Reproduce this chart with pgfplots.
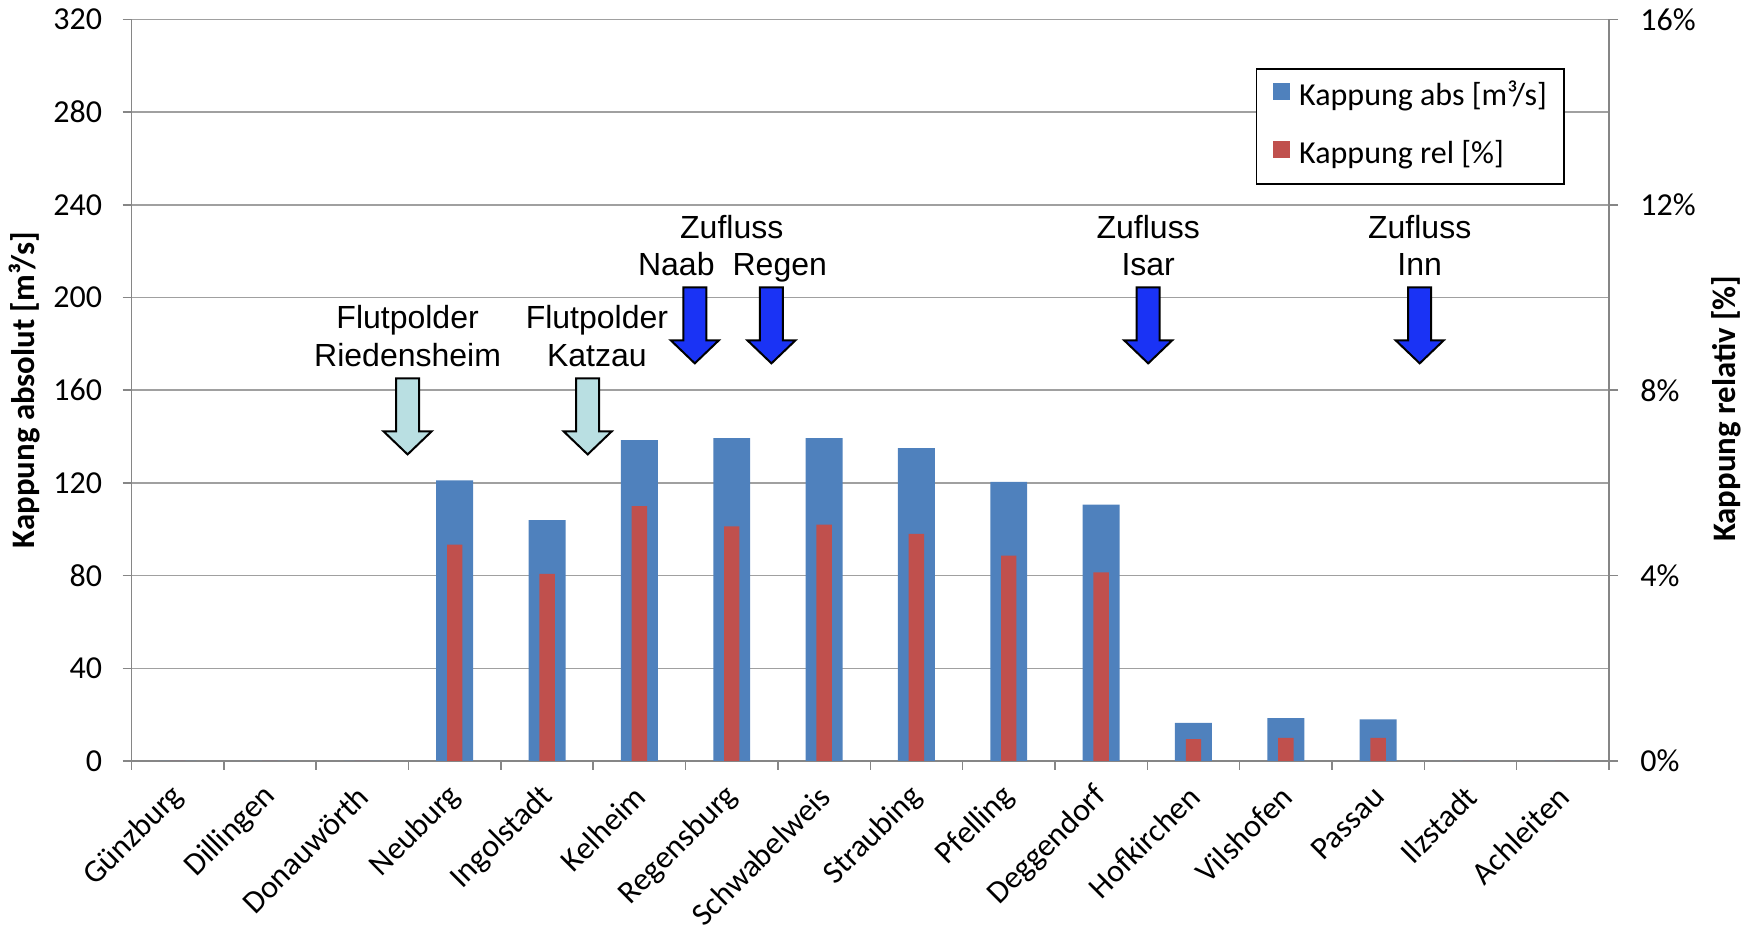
\documentclass[border=0pt]{standalone}
\usepackage{pgfplots}
\usepackage{pgfplotstable}
\pgfplotsset{compat=1.18}
\usepackage{fontspec}
\setmainfont{Carlito}
\newfontfamily\arialfont{Liberation Sans}

\definecolor{absblue}{RGB}{79,129,189}
\definecolor{relred}{RGB}{192,80,77}
\definecolor{axisgray}{RGB}{134,134,134}
\definecolor{gridgray}{RGB}{160,160,160}
\definecolor{zublue}{RGB}{26,51,245}
\definecolor{polder}{RGB}{185,223,226}

% gauge index, absolute capping [m^3/s], relative capping [%]
\pgfplotstableread{
idx abs rel
0 0 0
1 0 0
2 0 0
3 121.1 4.67
4 104.0 4.04
5 138.5 5.50
6 139.3 5.06
7 139.3 5.10
8 135.0 4.90
9 120.5 4.43
10 110.6 4.07
11 16.5 0.47
12 18.5 0.50
13 18.0 0.50
14 0 0
15 0 0
}\kappung

\newcommand{\labfont}{\fontsize{16}{19.2}\selectfont}
\newcommand{\annfont}{\arialfont\fontsize{16}{19.2}\selectfont}

% downward arrow marking a tributary or a flood polder
\newcommand{\flowarrow}[3]{%
  \draw[fill=#3, draw=black, line width=1pt, line join=miter, shift={(axis cs:#1,#2)}]
    (-5.75pt,0pt) -- (5.75pt,0pt) -- (5.75pt,-26.5pt) -- (12pt,-26.5pt)
    -- (0pt,-38pt) -- (-12pt,-26.5pt) -- (-5.75pt,-26.5pt) -- cycle;}

\pgfplotsset{
  basestyle/.style={
    scale only axis, width=738.75pt, height=370.75pt,
    at={(65.75pt,84.5pt)}, anchor=south west,
    xmin=-0.5, xmax=15.5, ymin=0,
    tick align=outside,
    major tick length=4.5pt,
    axis line style={axisgray, line width=0.75pt},
    every tick/.style={axisgray, line width=0.75pt},
    tick label style={font=\labfont, /pgf/number format/assume math mode=true},
    label style={font=\bfseries\fontsize{16.4}{19.7}\selectfont},
    ybar, bar shift=0pt,
  }
}

\begin{document}
\begin{tikzpicture}
\begin{axis}[basestyle, ymax=320, ytick={0,40,...,320},
  axis y line*=left, axis x line*=bottom,
  ymajorgrids, grid style={gridgray, line width=0.75pt},
  xtick={-0.5,0.5,...,15.5},
  x tick label as interval,
  xticklabels={Günzburg,Dillingen,Donauwörth,Neuburg,Ingolstadt,Kelheim,Regensburg,Schwabelweis,Straubing,Pfelling,Deggendorf,Hofkirchen,Vilshofen,Passau,Ilzstadt,Achleiten},
  xticklabel style={xshift=0.5pt, yshift=-10.7pt, rotate=45, anchor=east, inner sep=0pt},
  yticklabel style={inner sep=0pt, xshift=-10pt},
  ylabel={Kappung absolut [m³/s]},
  ylabel style={at={(axis description cs:-0.0724,0.5)}, anchor=center},
  bar width=0.4,
]
\addplot[fill=absblue, draw=none] table[x=idx,y=abs]{\kappung};

% tributaries
\node[font=\annfont, anchor=base] at (axis cs:6.0,225.6) {Zufluss};
\node[font=\annfont, anchor=base] at (axis cs:5.40,209.7) {Naab};
\node[font=\annfont, anchor=base] at (axis cs:6.52,209.7) {Regen};
\node[font=\annfont, anchor=base] at (axis cs:10.51,225.6) {Zufluss};
\node[font=\annfont, anchor=base] at (axis cs:10.51,209.7) {Isar};
\node[font=\annfont, anchor=base] at (axis cs:13.45,225.6) {Zufluss};
\node[font=\annfont, anchor=base] at (axis cs:13.45,209.7) {Inn};
\flowarrow{5.60}{204.4}{zublue}
\flowarrow{6.43}{204.4}{zublue}
\flowarrow{10.51}{204.4}{zublue}
\flowarrow{13.45}{204.4}{zublue}

% flood polders
\node[font=\annfont, anchor=base] at (axis cs:2.49,186.7) {Flutpolder};
\node[font=\annfont, anchor=base] at (axis cs:2.49,170.1) {Riedensheim};
\node[font=\annfont, anchor=base] at (axis cs:4.54,186.7) {Flutpolder};
\node[font=\annfont, anchor=base] at (axis cs:4.54,170.1) {Katzau};
\flowarrow{2.49}{165.1}{polder}
\flowarrow{4.44}{165.1}{polder}
\end{axis}

\begin{axis}[basestyle, ymax=16, ytick={0,4,...,16},
  axis y line*=right, axis x line=none,
  yticklabel={\pgfmathprintnumber{\tick}\%},
  yticklabel style={inner sep=0pt, xshift=11pt},
  ylabel={Kappung relativ [\%]},
  ylabel style={at={(axis description cs:1.0795,0.475)}, anchor=center},
  bar width=0.1667,
  legend cell align=left,
  legend image code/.code={\fill[#1] (0pt,-1pt) rectangle (8.4pt,7.5pt);},
  legend style={at={(rel axis cs:0.970,0.934)}, anchor=north east,
    draw=black, line width=0.6pt, fill=white, font=\labfont,
    inner xsep=8.5pt, inner ysep=7pt, row sep=14pt,
    nodes={inner sep=0pt, text height=11pt, text depth=3.5pt},
    /tikz/every odd column/.append style={column sep=4.5pt}},
]
\addlegendimage{fill=absblue, draw=none}
\addlegendentry{Kappung abs [m³/s]}
\addplot[fill=relred, draw=none] table[x=idx,y=rel]{\kappung};
\addlegendentry{Kappung rel [\%]}
\end{axis}

\pgfresetboundingbox
\path[use as bounding box] (0,0) rectangle (878pt,465pt);
\end{tikzpicture}
\end{document}
